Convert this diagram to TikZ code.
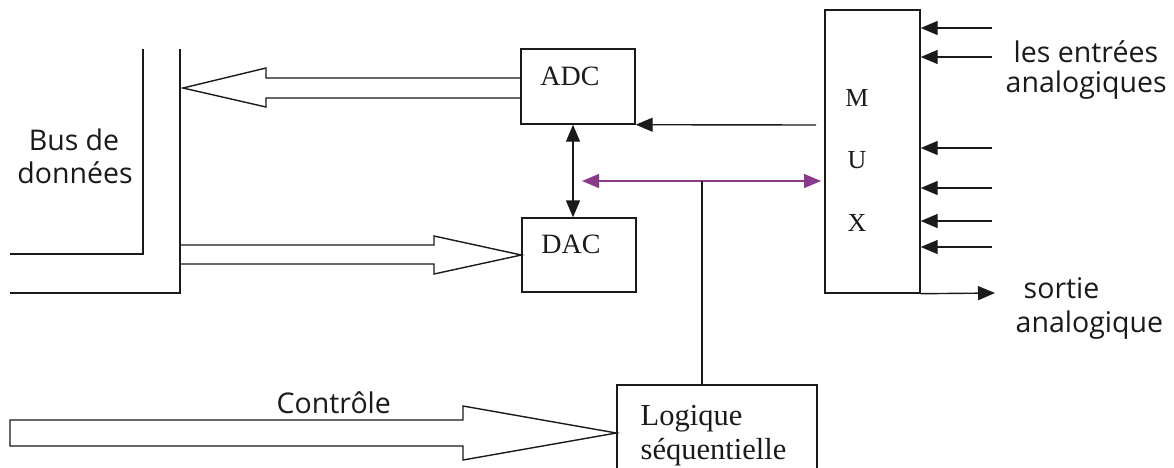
\documentclass[tikz,border=0pt]{standalone}
\usepackage{fontspec}
\setmainfont{Liberation Serif}
\newfontfamily\labelfont{Open Sans}
\usetikzlibrary{arrows.meta,calc}
\definecolor{ink}{HTML}{1A1A1A}
\definecolor{ctrlpurple}{HTML}{8A3A8A}
\begin{document}
\begin{tikzpicture}[x=1pt,y=-1pt,line width=1.4pt,draw=ink,
  box/.style={draw,rectangle,inner sep=0pt},
  lbl/.style={font=\labelfont\fontsize{28.5}{33}\selectfont,text=ink,inner sep=0pt},
  boxtxt/.style={font=\fontsize{28}{30}\selectfont,text=ink,inner sep=0pt},
  muxtxt/.style={font=\fontsize{26}{28}\selectfont,text=ink,inner sep=0pt},
  logtxt/.style={font=\fontsize{30.5}{34}\selectfont,text=ink,inner sep=0pt},
  hollow/.style={draw,line width=1.4pt,line join=miter},
  tri/.style={-{Triangle[length=17pt,width=14pt]}},
  bitri/.style={{Triangle[length=17pt,width=14pt]}-{Triangle[length=17pt,width=14pt]}}]
\useasboundingbox (0,0) rectangle (1174,467);
\clip (0,0) rectangle (1174,467);
\fill[white] (0,0) rectangle (1174,467);

% boxes
\node[box,minimum width=114pt,minimum height=75pt] (adc) at (578,86.5) {};
\node[box,minimum width=114pt,minimum height=74pt] (dac) at (579,255) {};
\node[box,minimum width=95pt,minimum height=283pt] (mux) at (872.5,151.5) {};
\node[box,minimum width=200pt,minimum height=100pt] (logic) at (717,435) {};

% box texts
\node[boxtxt,anchor=base] (adct) at (570,85) {ADC};
\node[boxtxt,anchor=base] (dact) at (571,253) {DAC};
\node[muxtxt] (muxm) at (857,98) {M};
\node[muxtxt] (muxu) at (857,160) {U};
\node[muxtxt] (muxx) at (857,223) {X};
\node[logtxt,anchor=base west] (logt1) at (640,425) {Logique};
\node[logtxt,anchor=base west] (logt2) at (640,459) {séquentielle};

% data bus
\coordinate (bi1) at (143,49);
\coordinate (bi2) at (143,254);
\coordinate (bi3) at (10,254);
\coordinate (bo1) at (180,49);
\coordinate (bo2) at (180,293);
\coordinate (bo3) at (10,293);
\draw (bi1) -- (bi2) -- (bi3);
\draw (bo1) -- (bo2) -- (bo3);
\node[lbl,anchor=base] (bus1) at (74,150) {Bus de};
\node[lbl,anchor=base] (bus2) at (75,183) {données};

% hollow arrow ADC -> bus
\coordinate (adctip) at (183,88);
\draw[hollow] (adc.west |- 0,78) -- (266,78) -- (266,68) -- (adctip)
  -- (266,107) -- (266,98) -- (adc.west |- 0,98);

% hollow arrow bus -> DAC
\draw[hollow] (bo1 |- 0,245) -- (434,245) -- (434,236) -- (dac.west)
  -- (434,274) -- (434,264) -- (bo1 |- 0,264);

% hollow control arrow
\coordinate (cs1) at (10,420);
\coordinate (cs2) at (10,446);
\draw[hollow] (cs2) -- (cs1) -- (463,420) -- (463,406) -- (logic.west |- 0,433)
  -- (463,460) -- (463,446) -- cycle;
\node[lbl,anchor=base west] (ctrl) at (276,413) {Contrôle};

% ADC <-> DAC
\draw[bitri] (adc.south -| 573,0) -- (dac.north -| 573,0);

% MUX -> ADC
\coordinate (mxa) at (816,125);
\draw[tri] (mxa) -- (adc.south east);

% control bus
\coordinate (cl) at (582,181);
\coordinate (cj) at (702,181);
\coordinate (cr) at (821,181);
\draw[ctrlpurple,tri] (cj) -- (cl);
\draw[ctrlpurple,tri] (cj) -- (cr);
\draw (cj) -- (logic.north -| cj);

% analog inputs
\foreach \y in {28,57,148,188,221,247}{
  \coordinate (in\y) at (992,\y);
  \draw[tri] (in\y) -- (mux.east |- 0,\y);
}
\node[lbl,anchor=base west] (in1) at (1013,62) {les entrées};
\node[lbl,anchor=base west] (in2) at (1005,92) {analogiques};

% analog output
\coordinate (out) at (995,293);
\draw[tri] (mux.south east) -- (out);
\node[lbl,anchor=base west] (out1) at (1023,298) {sortie};
\node[lbl,anchor=base west] (out2) at (1015,332) {analogique};
\end{tikzpicture}
\end{document}
